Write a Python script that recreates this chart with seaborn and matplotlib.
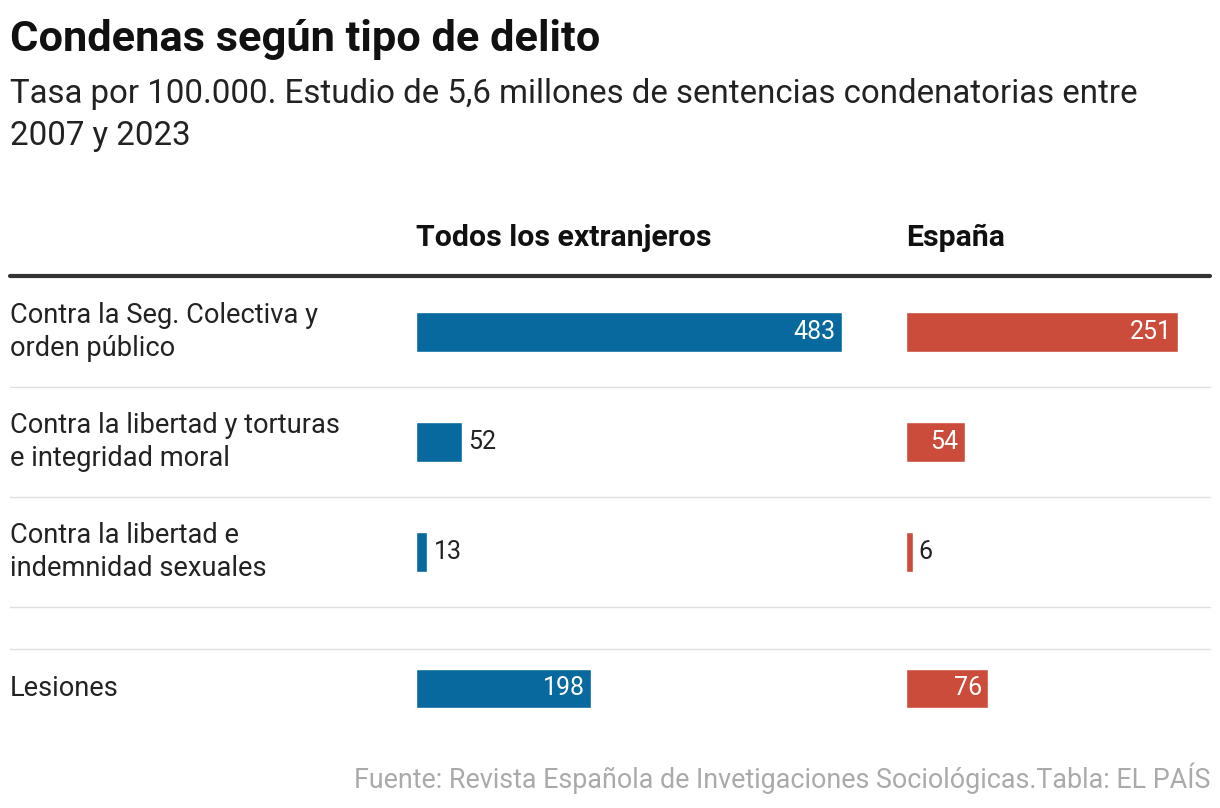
import matplotlib
matplotlib.use("Agg")
import matplotlib.pyplot as plt
import seaborn as sns
import pandas as pd

categories = ["Contra la Seg. Colectiva y\norden público",
              "Contra la libertad y torturas\ne integridad moral",
              "Contra la libertad e\nindemnidad sexuales",
              "Lesiones"]
extranjeros = [483, 52, 13, 198]
espana = [251, 54, 6, 76]
row_pos = [0, 1, 2, 3.24]
col_titles = ["Todos los extranjeros", "España"]

sns.set_theme(style="white")
plt.rcParams["font.family"] = ["Roboto", "DejaVu Sans"]

W, H = 1220, 808
fig = plt.figure(figsize=(W / 100, H / 100), dpi=100)
bg = fig.add_axes([0, 0, 1, 1])
bg.set_xlim(0, W); bg.set_ylim(H, 0); bg.axis("off")

bg.text(10, 40, "Condenas según tipo de delito", fontsize=31.2, fontweight="bold", va="center", color="#111")
bg.text(10, 115, "Tasa por 100.000. Estudio de 5,6 millones de sentencias condenatorias entre\n2007 y 2023",
        fontsize=23.8, va="center", color="#222", linespacing=1.4)
bg.text(416, 238, col_titles[0], fontsize=21.8, fontweight="bold", va="center", color="#111")
bg.text(906, 238, col_titles[1], fontsize=21.8, fontweight="bold", va="center", color="#111")
bg.plot([10, 1210], [276, 276], color="#333", lw=3)
for y in [387, 497, 607, 649]:
    bg.plot([10, 1210], [y, y], color="#e0e0e0", lw=1)
for cat, p in zip(categories, row_pos):
    bg.text(10, 332 + 110 * p, cat, fontsize=19.6, va="center", color="#222", linespacing=1.3)
bg.text(1210, 778, "Fuente: Revista Española de Invetigaciones Sociológicas.Tabla: EL PAÍS",
        fontsize=19.4, ha="right", va="center", color="#aaa")

def panel(x0, x1, vals, color):
    ax = fig.add_axes([x0 / W, (H - 740) / H, (x1 - x0) / W, (740 - 276) / H])
    df = pd.DataFrame({"v": vals, "y": row_pos})
    sns.barplot(data=df, x="v", y="y", orient="h", native_scale=True, color=color,
                width=0.36, saturation=1, ax=ax)
    ax.set_xlim(0, max(vals))
    ax.set_ylim((740 - 332) / 110, (276 - 332) / 110)
    ax.axis("off")
    ax.patch.set_alpha(0)
    pxu = (x1 - x0) / max(vals)
    for v, p in zip(vals, row_pos):
        if v * pxu > 50:
            ax.text(v - 6 / pxu, p, str(v), color="white", ha="right", va="center", fontsize=18)
        else:
            ax.text(v + 6 / pxu, p, str(v), color="#222", ha="left", va="center", fontsize=18)

panel(416, 842, extranjeros, "#07699e")
panel(906, 1178, espana, "#cc4c3b")
fig.savefig("out.png", dpi=100)
